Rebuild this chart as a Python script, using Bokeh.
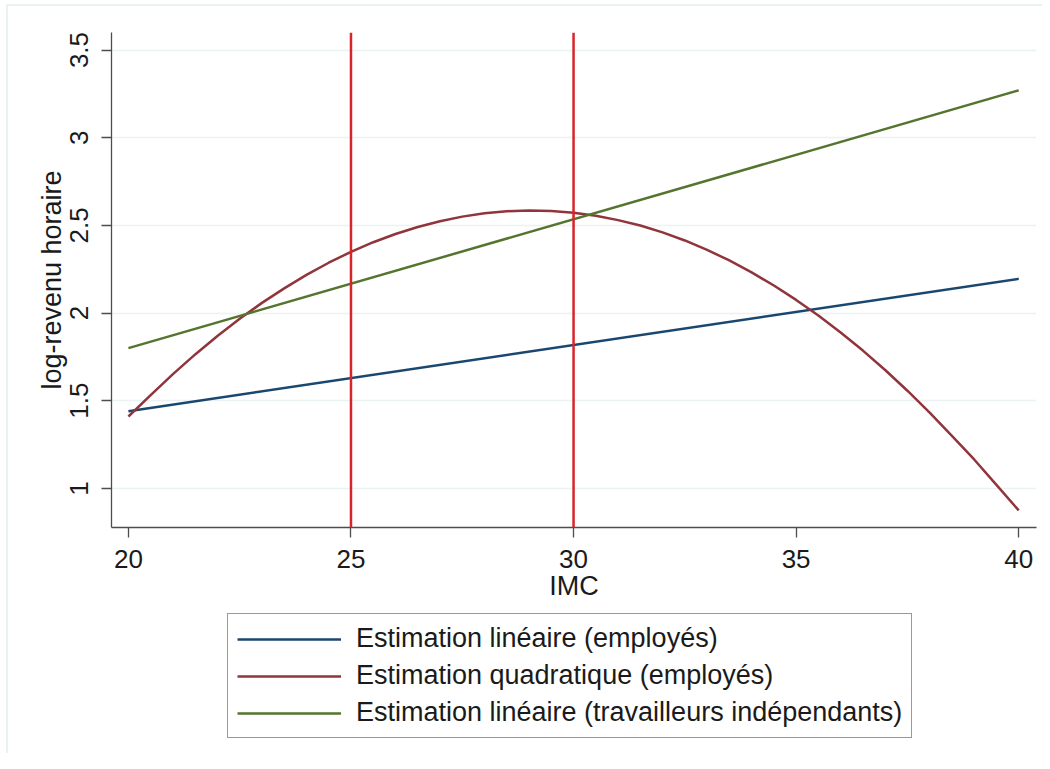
from bokeh.plotting import figure
from bokeh.layouts import column
from bokeh.models import Range1d, Legend, LegendItem, Span, FixedTicker
from bokeh.embed import file_html
from bokeh.resources import INLINE

# Data
x_lin = [20, 40]
y_lin_employes = [1.44, 2.195]
y_lin_indep = [1.80, 3.27]
x_quad = [20, 20.5, 21, 21.5, 22, 22.5, 23, 23.5, 24, 24.5, 25, 25.5, 26, 26.5, 27, 27.5,
          28, 28.5, 29, 29.5, 30, 30.5, 31, 31.5, 32, 32.5, 33, 33.5, 34, 34.5, 35, 35.5,
          36, 36.5, 37, 37.5, 38, 38.5, 39, 39.5, 40]
y_quad_employes = [1.41, 1.532, 1.652, 1.764, 1.869, 1.967, 2.058, 2.141, 2.218, 2.287,
                   2.349, 2.404, 2.451, 2.491, 2.524, 2.550, 2.569, 2.581, 2.585, 2.582,
                   2.572, 2.555, 2.530, 2.499, 2.460, 2.414, 2.360, 2.300, 2.232, 2.157,
                   2.075, 1.986, 1.889, 1.786, 1.675, 1.557, 1.432, 1.299, 1.165, 1.02, 0.875]
vlines = [25, 30]
x_ticks = [20, 25, 30, 35, 40]
y_ticks = [1, 1.5, 2, 2.5, 3, 3.5]
labels = ["Estimation linéaire (employés)",
          "Estimation quadratique (employés)",
          "Estimation linéaire (travailleurs indépendants)"]
colors = ["#1a476f", "#90353b", "#55752f"]

FONT = "Liberation Sans"
OX, OY = 8, 6  # outer graph-region offset
LW = 2.5

p = figure(width=1042 - OX, height=605 - OY, output_backend="svg", toolbar_location=None,
           x_range=Range1d(19.62, 40.40), y_range=Range1d(0.777, 3.60),
           min_border_left=111 - OX, min_border_right=6, min_border_top=32 - OY,
           min_border_bottom=78)
p.outline_line_color = None
p.background_fill_color = "white"
p.border_fill_color = "white"

p.line(x_lin, y_lin_employes, line_color=colors[0], line_width=LW)
p.line(x_quad, y_quad_employes, line_color=colors[1], line_width=LW, line_join="round")
p.line(x_lin, y_lin_indep, line_color=colors[2], line_width=LW)

for v in vlines:
    p.add_layout(Span(location=v, dimension="height", line_color="#d7262b", line_width=LW))

p.xaxis.ticker = FixedTicker(ticks=x_ticks)
p.yaxis.ticker = FixedTicker(ticks=y_ticks)
p.xaxis.axis_label = "IMC"
p.yaxis.axis_label = "log-revenu horaire"
for ax in (p.xaxis, p.yaxis):
    ax.axis_line_color = "#4d4d4d"
    ax.axis_line_width = 1.3
    ax.major_tick_line_color = "#4d4d4d"
    ax.major_tick_line_width = 1.3
    ax.major_tick_out = 10
    ax.major_tick_in = 0
    ax.minor_tick_line_color = None
    ax.major_label_text_font = FONT
    ax.major_label_text_font_size = "26px"
    ax.major_label_text_color = "#1a1a1a"
    ax.axis_label_text_font = FONT
    ax.axis_label_text_font_size = "27px"
    ax.axis_label_text_font_style = "normal"
    ax.axis_label_text_color = "#1a1a1a"
p.yaxis.major_label_orientation = "vertical"
p.xaxis.major_label_standoff = 12
p.xaxis.axis_label_standoff = 0
p.yaxis.major_label_standoff = 13
p.yaxis.axis_label_standoff = 1

p.xgrid.grid_line_color = None
p.ygrid.grid_line_color = "#eaf2f3"
p.ygrid.grid_line_width = 1.5

# Legend panel below the plot (its frame is aligned with the main frame)
p2 = figure(width=1042 - OX, height=148, output_backend="svg", toolbar_location=None,
            x_range=Range1d(0, 1), y_range=Range1d(0, 1),
            min_border_left=0, min_border_right=0, min_border_top=0, min_border_bottom=0)
p2.axis.visible = False
p2.grid.visible = False
p2.outline_line_color = None
p2.border_fill_color = "white"
# same series drawn outside this panel's visible ranges: only their legend glyphs show
lr = [p2.line(x_lin, y_lin_employes, line_color=colors[0], line_width=LW),
      p2.line(x_quad, y_quad_employes, line_color=colors[1], line_width=LW),
      p2.line(x_lin, y_lin_indep, line_color=colors[2], line_width=LW)]

legend = Legend(items=[LegendItem(label=lab, renderers=[r]) for lab, r in zip(labels, lr)],
                location=(227 - 111, 15), orientation="vertical")
legend.label_text_font = FONT
legend.label_text_font_size = "27px"
legend.label_text_color = "#1a1a1a"
legend.glyph_width = 104
legend.glyph_height = 30
legend.label_height = 30
legend.label_standoff = 15
legend.spacing = 6
legend.padding = 9
legend.margin = 0
legend.border_line_color = "#333333"
legend.border_line_width = 1.3
legend.background_fill_color = "white"
p2.add_layout(legend, "center")

layout = column(p, p2, spacing=0,
                styles={"border-left": "2px solid #eaf2f3", "border-top": "2px solid #eaf2f3",
                        "margin-left": f"{OX - 2}px", "margin-top": f"{OY - 2}px"})

open("out.html", "w").write(file_html(layout, INLINE))
